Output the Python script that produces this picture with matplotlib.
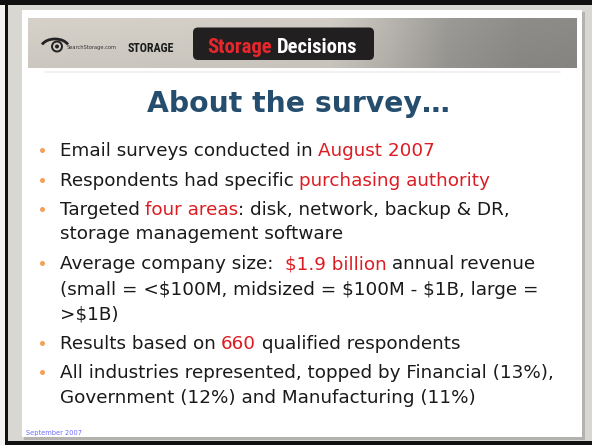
import matplotlib
matplotlib.use("Agg")
import matplotlib.pyplot as plt
import numpy as np
from matplotlib.patches import Rectangle, FancyBboxPatch, Circle, Arc
from matplotlib import font_manager as fm
from matplotlib.colors import to_rgb

# ---------------- content ----------------
title_text = "About the survey\u2026"
K = "#1a1a1a"
R = "#dc1c22"
line_has_bullet = [True, True, True, False, True, False, False, True, True, False]
line_segments = [
    [("Email surveys conducted in ", K), ("August 2007", R)],
    [("Respondents had specific ", K), ("purchasing authority", R)],
    [("Targeted ", K), ("four areas", R), (": disk, network, backup & DR,", K)],
    [("storage management software", K)],
    [("Average company size:  ", K), ("$1.9 billion", R), (" annual revenue", K)],
    [("(small = <$100M, midsized = $100M - $1B, large =", K)],
    [(">$1B)", K)],
    [("Results based on ", K), ("660", R), (" qualified respondents", K)],
    [("All industries represented, topped by Financial (13%),", K)],
    [("Government (12%) and Manufacturing (11%)", K)],
]
line_baselines = [156, 186, 215, 239, 269, 295, 319, 349, 378, 403]
footer_text = "September 2007"

W, H = 592, 445
fig = plt.figure(figsize=(W / 100, H / 100), dpi=100)
ax = fig.add_axes([0, 0, 1, 1])
ax.set_xlim(0, W)
ax.set_ylim(H, 0)
ax.axis("off")
fig.patch.set_facecolor("#f4f4f2")

names = {f.name for f in fm.fontManager.ttflist}
body_font = "DejaVu Sans"
narrow_font = None
for cand in ["Liberation Sans Narrow", "DejaVu Sans Condensed", "Roboto Condensed"]:
    if cand in names:
        narrow_font = cand
        break
if narrow_font is None:
    narrow_font = "Liberation Sans"

renderer = fig.canvas.get_renderer()


def text_width(s, **kw):
    t = ax.text(0, 0, s, parse_math=False, **kw)
    w = t.get_window_extent(renderer).width
    t.remove()
    return w


def adv_width(s, **kw):
    return text_width("X" + s + "X", **kw) - text_width("XX", **kw)


def fit_size(s, target, **kw):
    w10 = text_width(s, fontsize=10, **kw)
    return 10 * target / w10


# ---------------- frame ----------------
ax.add_patch(Rectangle((7, 5), W - 7, 436, facecolor="#d9d7d2", edgecolor="none", zorder=0))
ax.add_patch(Rectangle((0, 0), W, 5, facecolor="#111111", edgecolor="none", zorder=1))
ax.add_patch(Rectangle((5, 0), 2.5, H, facecolor="#111111", edgecolor="none", zorder=1))
ax.add_patch(Rectangle((5, 441), W, 4, facecolor="#111111", edgecolor="none", zorder=1))
# slide shadow + slide
ax.add_patch(Rectangle((24, 12), 561, 428, facecolor="#b3b2ae", edgecolor="none", zorder=1))
ax.add_patch(Rectangle((22, 10), 560, 427, facecolor="white", edgecolor="none", zorder=2))

# ---------------- header band ----------------
stops_x = [28, 330, 390, 450, 520, 577]
stops_c = ["#d6d2ca", "#d2cec6", "#b9b6b0", "#9c9a96", "#8e8d89", "#8c8b87"]
xs = np.linspace(28, 577, 400)
cols = np.array([to_rgb(c) for c in stops_c])
grad = np.stack([np.interp(xs, stops_x, cols[:, i]) for i in range(3)], axis=-1)
ys = np.linspace(0, 1, 40)
shade = 1.0 - 0.05 * ys[:, None, None]
img = np.clip(grad[None, :, :] * shade, 0, 1)
ax.imshow(img, extent=[28, 577, 68, 18], aspect="auto", zorder=3, interpolation="bilinear")
ax.set_xlim(0, W)
ax.set_ylim(H, 0)
ax.plot([45, 560], [72, 72], color="#efefef", lw=1.2, zorder=3)

# logo: eye
ax.add_patch(Arc((55, 48), 28, 18, theta1=195, theta2=345, color="#222222", lw=2.0, zorder=4))
ax.add_patch(Circle((57, 46.5), 5.0, facecolor="none", edgecolor="#222222", lw=1.4, zorder=4))
ax.add_patch(Circle((57, 46.5), 2.0, facecolor="#222222", edgecolor="none", zorder=4))
fs_ss = fit_size("SearchStorage.com", 50, family=body_font)
ax.text(67, 47, "SearchStorage.com", fontsize=fs_ss, family=body_font, color="#333333",
        va="center", ha="left", zorder=4, parse_math=False)
fs_st = fit_size("STORAGE", 47, family=narrow_font, weight="bold")
ax.text(128, 52.5, "STORAGE", fontsize=fs_st, family=narrow_font, weight="bold", color="#1a1a1a",
        va="baseline", ha="left", zorder=4, parse_math=False)

# Storage Decisions box
ax.add_patch(FancyBboxPatch((193, 27.5), 181, 32.5, boxstyle="round,pad=0,rounding_size=5",
                            facecolor="#221f20", edgecolor="none", zorder=4))
fs_sd = fit_size("Storage Decisions", 150, family=narrow_font, weight="bold")
x0 = 207
ax.text(x0, 53, "Storage", fontsize=fs_sd, family=narrow_font, weight="bold", color="#e8262c",
        va="baseline", ha="left", zorder=5, parse_math=False)
dx = adv_width("Storage ", fontsize=fs_sd, family=narrow_font, weight="bold")
ax.text(x0 + dx, 53, "Decisions", fontsize=fs_sd, family=narrow_font, weight="bold", color="white",
        va="baseline", ha="left", zorder=5, parse_math=False)

# ---------------- title ----------------
fs_title = fit_size(title_text, 303, family=body_font, weight="bold")
ax.text(298.5, 112, title_text, fontsize=fs_title, family=body_font, weight="bold",
        color="#254d6d", ha="center", va="baseline", zorder=5, parse_math=False)

# ---------------- body ----------------
fs_body = fit_size("All industries represented, topped by Financial (13%),", 493, family=body_font)
text_x = 59.5
for has_b, segs, yb in zip(line_has_bullet, line_segments, line_baselines):
    if has_b:
        ax.plot([41.7], [yb - 6], marker="o", ms=3.6, color="#f2a05a", mec="none", zorder=5)
    prefix = ""
    for s, c in segs:
        dx = adv_width(prefix, fontsize=fs_body, family=body_font) if prefix else 0
        ax.text(text_x + dx, yb, s, fontsize=fs_body, family=body_font, color=c,
                ha="left", va="baseline", zorder=5, parse_math=False)
        prefix += s

# ---------------- footer ----------------
fs_ft = fit_size(footer_text, 55, family=body_font)
ax.text(26, 433, footer_text, fontsize=fs_ft, family=body_font, color="#6d6dfa",
        ha="left", va="center", zorder=5, parse_math=False)

fig.savefig("out.png", dpi=100, facecolor=fig.get_facecolor())
